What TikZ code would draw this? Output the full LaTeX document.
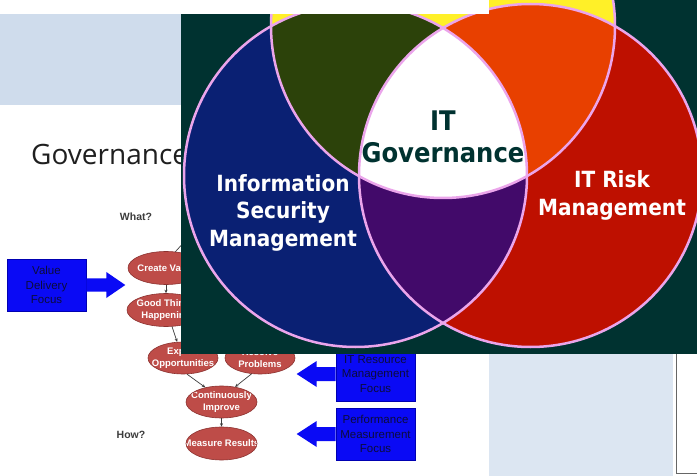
\documentclass[tikz,border=0pt]{standalone}
\usepackage{fontspec}
\setmainfont{Liberation Sans}
\newfontfamily\vennfont{DejaVu Sans}[FakeStretch=0.9]
\newfontfamily\titlefont{Open Sans}
\usetikzlibrary{arrows.meta,shapes.geometric,calc}
\definecolor{hdrblue}{RGB}{207,220,236}
\definecolor{panelblue}{RGB}{220,230,242}
\definecolor{venndark}{RGB}{0,50,48}
\definecolor{vblue}{RGB}{10,32,115}
\definecolor{vred}{RGB}{190,16,0}
\definecolor{vyellow}{RGB}{255,240,40}
\definecolor{volive}{RGB}{44,66,10}
\definecolor{vorange}{RGB}{232,64,0}
\definecolor{vpurple}{RGB}{66,10,106}
\definecolor{vpink}{RGB}{235,165,235}
\definecolor{ellred}{RGB}{190,76,72}
\definecolor{ellborder}{RGB}{140,50,48}
\definecolor{boxblue}{RGB}{10,10,245}
\definecolor{boxtext}{RGB}{12,12,60}
\definecolor{qgray}{RGB}{60,60,60}
\begin{document}
\begin{tikzpicture}[x=1pt,y=-1pt,
  flowell/.style={ellipse, draw=ellborder, line width=0.6pt, fill=ellred, inner sep=0pt,
    minimum width=72pt, minimum height=33pt,
    path picture={\node[flowtext] at (path picture bounding box.center) {#1};}},
  flowtext/.style={text=white, align=center, inner sep=0pt,
    font=\bfseries\fontsize{9.5}{11.5}\selectfont},
  flowarrow/.style={draw=qgray, line width=0.7pt, -{Stealth[length=3.5pt,width=3pt]}},
  focusbox/.style={draw=blue!70!black, line width=0.6pt, fill=boxblue, minimum width=79pt,
    text=boxtext, align=center, inner sep=0pt, font=\fontsize{11.5}{14.5}\selectfont},
  blockarrow/.style={fill=boxblue},
  qtext/.style={text=qgray, inner sep=0pt, font=\bfseries\fontsize{10.5}{12}\selectfont},
  venntext/.style={align=center, inner sep=0pt},
  vennline/.style={draw=vpink, line width=2.5pt}
]
\useasboundingbox (0,0) rectangle (697,476);
\fill[white] (0,0) rectangle (697,476);
% slide background
\fill[hdrblue] (0,14) rectangle (200,105);
\fill[panelblue] (489,354) rectangle (673,476);
\draw[black!60, line width=1.2pt] (676.5,354) -- (676.5,473.5) -- (697,473.5);
\node[anchor=base west, inner sep=0pt, text=black!88, font=\titlefont\fontsize{28}{30}\selectfont] (title) at (31,165) {Governance};
\node[qtext] (what) at (136,217) {What?};
\node[qtext] (how) at (131,435) {How?};
% flow ellipses
\node[flowell={Create Value}, minimum width=76pt] (cv) at (166,268) {};
\node[flowell={Good Things\\Happening}, minimum width=78pt] (gt) at (166,310) {};
\node[flowell={Exploit\\Opportunities}, minimum width=70pt, minimum height=32pt] (eo) at (183,358) {};
\node[flowell={Resolve\\Problems}, minimum width=70pt, minimum height=32pt] (rp) at (260,358) {};
\node[flowell={Continuously\\Improve}, minimum width=71pt, minimum height=32pt] (ci) at (221.5,402) {};
\node[flowell={Measure Results}, minimum width=71pt] (mr) at (221.5,443.5) {};
\coordinate (stub) at (186,240);
\draw[flowarrow] (cv.60) -- (stub);
\draw[flowarrow] (cv.south) -- (gt.north);
\draw[flowarrow] (gt.-70) -- (eo.110);
\draw[flowarrow] (eo.-76) -- (ci.138);
\draw[flowarrow] (rp.-118) -- (ci.48);
\draw[flowarrow] (ci.south) -- (mr.north);
% focus boxes
\node[focusbox, minimum height=52pt] (vd) at (46.5,285) {Value\\Delivery\\Focus};
\node[focusbox, minimum height=54pt] (ir) at (375.5,374) {IT Resource\\Management\\Focus};
\node[focusbox, minimum height=52pt] (pm) at (375.5,434) {Performance\\Measurement\\Focus};
\fill[blockarrow] ($(vd.east)+(0,-6.5)$) -- ++(20,0) -- ++(0,-6.5) -- ++(19,13) -- ++(-19,13) -- ++(0,-6.5) -- ++(-20,0) -- cycle;
\fill[blockarrow] ($(ir.west)+(0,-7)$) -- ++(-19,0) -- ++(0,-6) -- ++(-20,13) -- ++(20,13) -- ++(0,-6) -- ++(19,0) -- cycle;
\fill[blockarrow] ($(pm.west)+(0,-7)$) -- ++(-19,0) -- ++(0,-6) -- ++(-20,13) -- ++(20,13) -- ++(0,-6) -- ++(19,0) -- cycle;
% venn picture
\fill[venndark] (181,0) rectangle (697,354);
\begin{scope}
  \clip (181,0) rectangle (697,354);
  \fill[vblue] (355.5,175.5) circle (171.5pt);
  \fill[vred] (530.5,175.5) circle (171.5pt);
  \fill[vyellow] (443,26) circle (172pt);
  \begin{scope}
    \clip (443,26) circle (172pt);
    \fill[volive] (355.5,175.5) circle (171.5pt);
    \fill[vorange] (530.5,175.5) circle (171.5pt);
  \end{scope}
  \begin{scope}
    \clip (355.5,175.5) circle (171.5pt);
    \fill[vpurple] (530.5,175.5) circle (171.5pt);
    \clip (443,26) circle (172pt);
    \fill[white] (530.5,175.5) circle (171.5pt);
  \end{scope}
  \draw[vennline] (355.5,175.5) circle (171.5pt);
  \draw[vennline] (530.5,175.5) circle (171.5pt);
  \draw[vennline] (443,26) circle (172pt);
\end{scope}
\node[venntext, text=white, font=\vennfont\bfseries\fontsize{22.3}{27.5}\selectfont] (ism) at (283,212.5) {Information\\Security\\Management};
\node[venntext, text=venndark, font=\vennfont\bfseries\fontsize{27}{32}\selectfont] (itg) at (443,137) {IT\\Governance};
\node[venntext, text=white, font=\vennfont\bfseries\fontsize{22.3}{28}\selectfont] (itr) at (612,195) {IT Risk\\Management};
% top white strip
\fill[white] (0,0) rectangle (489,14);
\end{tikzpicture}
\end{document}
